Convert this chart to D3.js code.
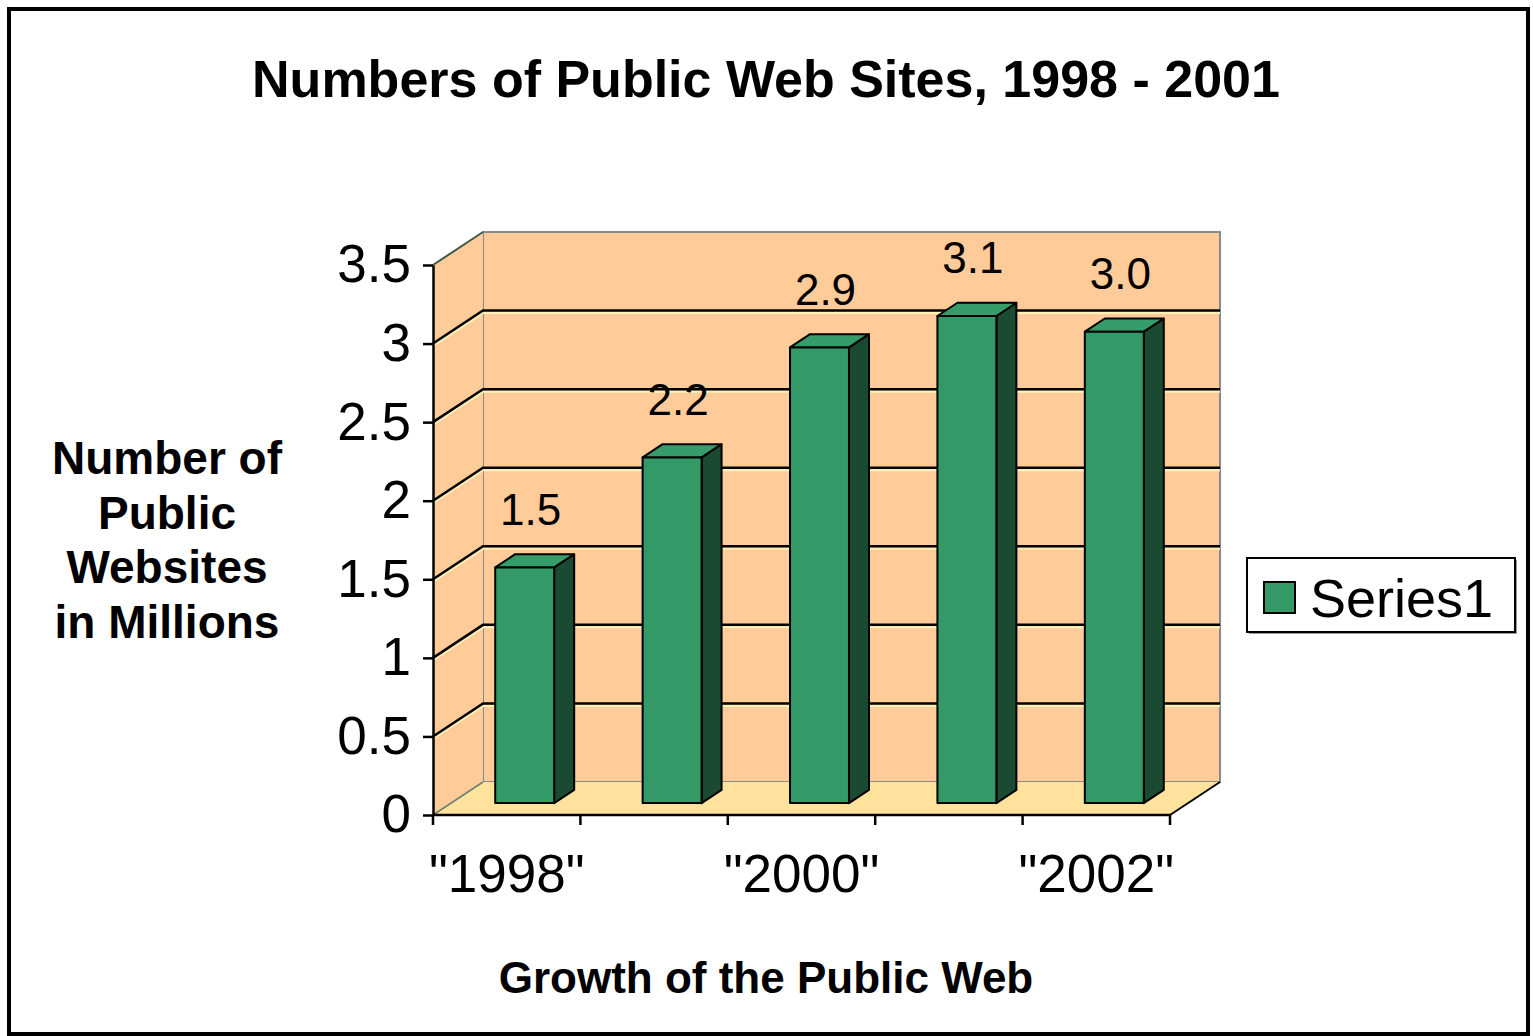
<!DOCTYPE html>
<html>
<head>
<meta charset="utf-8">
<script src="https://cdn.jsdelivr.net/npm/d3@7"></script>
<style>
  html, body { margin: 0; padding: 0; background: #fff; }
  svg { display: block; font-family: "Liberation Sans", Arial, Helvetica, sans-serif; }
</style>
</head>
<body>
<svg id="chart" width="1533" height="1036"></svg>
<script>
// Chart data
const categories = ["1998", "1999", "2000", "2001", "2002"];
const values = [1.5, 2.2, 2.9, 3.1, 3.0];
const valueLabels = ["1.5", "2.2", "2.9", "3.1", "3.0"];
const yTicks = [0, 0.5, 1, 1.5, 2, 2.5, 3, 3.5];
const yTickLabels = ["0", "0.5", "1", "1.5", "2", "2.5", "3", "3.5"];
const xTickLabels = ["\"1998\"", "", "\"2000\"", "", "\"2002\""];
const seriesName = "Series1";
const titleText = "Numbers of Public Web Sites, 1998 - 2001";
const yTitleLines = ["Number of", "Public", "Websites", "in Millions"];
const xTitleText = "Growth of the Public Web";

// Colours
const wallColor = "#FFCC99";
const floorColor = "#FFE29C";
const barFront = "#339966";
const barTop = "#369C69";
const barSide = "#1B4A32";

const svg = d3.select("#chart");

// Front plane of the 3D plot box plus depth offset to the back wall
const plotLeft = 433, plotRight = 1170, plotBottom = 815, plotTop = 265;
const DX = 50, DY = -33;

const x = d3.scaleBand().domain(categories).range([plotLeft, plotRight]).paddingInner(0).paddingOuter(0);
const y = d3.scaleLinear().domain([0, 3.5]).range([plotBottom, plotTop]);
const bw = x.bandwidth();
const pts = arr => arr.map(p => p.join(",")).join(" ");

// Outer frame
svg.append("rect")
  .attr("x", 9).attr("y", 9).attr("width", 1519).attr("height", 1025)
  .attr("fill", "#fff").attr("stroke", "#000").attr("stroke-width", 4);

// Back wall
svg.append("rect")
  .attr("x", plotLeft + DX).attr("y", y(3.5) + DY)
  .attr("width", plotRight - plotLeft).attr("height", y(0) - y(3.5))
  .attr("fill", wallColor).attr("stroke", "#8a8a8a").attr("stroke-width", 2);

// Side wall
svg.append("polygon")
  .attr("points", pts([[plotLeft, y(3.5)], [plotLeft + DX, y(3.5) + DY], [plotLeft + DX, y(0) + DY], [plotLeft, y(0)]]))
  .attr("fill", wallColor).attr("stroke", "none");
svg.append("line")
  .attr("x1", plotLeft).attr("y1", y(3.5)).attr("x2", plotLeft + DX).attr("y2", y(3.5) + DY)
  .attr("stroke", "#3d5a48").attr("stroke-width", 2);

// Gridlines on both walls
const gridVals = yTicks.filter(v => v > 0 && v < 3.5);
const grid = svg.append("g");
gridVals.forEach(v => {
  grid.append("polyline")
    .attr("points", pts([[plotLeft, y(v) + 2.5], [plotLeft + DX, y(v) + DY + 2.5], [plotRight + DX, y(v) + DY + 2.5]]))
    .attr("fill", "none").attr("stroke", "#FFF2B8").attr("stroke-width", 2);
  grid.append("polyline")
    .attr("points", pts([[plotLeft, y(v)], [plotLeft + DX, y(v) + DY], [plotRight + DX, y(v) + DY]]))
    .attr("fill", "none").attr("stroke", "#000").attr("stroke-width", 2.5);
});

// Floor
svg.append("polygon")
  .attr("points", pts([[plotLeft, y(0)], [plotRight, y(0)], [plotRight + DX, y(0) + DY], [plotLeft + DX, y(0) + DY]]))
  .attr("fill", floorColor).attr("stroke", "none");
svg.append("line")
  .attr("x1", plotLeft).attr("y1", y(0)).attr("x2", plotLeft + DX).attr("y2", y(0) + DY)
  .attr("stroke", "#6d7f70").attr("stroke-width", 1.5);
svg.append("line")
  .attr("x1", plotRight).attr("y1", y(0)).attr("x2", plotRight + DX).attr("y2", y(0) + DY)
  .attr("stroke", "#000").attr("stroke-width", 2);

// 3D bars
const fFront = 0.36, fDepth = 0.4, widthFrac = 0.4;
const bars = svg.append("g");
categories.forEach((c, i) => {
  const v = values[i];
  const cx = x(c) + bw / 2 + fFront * DX;
  const w = bw * widthFrac;
  const xl = cx - w / 2, xr = cx + w / 2;
  const yTopFace = y(v) + fFront * DY, yBase = y(0) + fFront * DY;
  const ddx = fDepth * DX, ddy = fDepth * DY;
  const g = bars.append("g").attr("stroke", "#000").attr("stroke-width", 2).attr("stroke-linejoin", "round");
  g.append("polygon")
    .attr("points", pts([[xr, yTopFace], [xr + ddx, yTopFace + ddy], [xr + ddx, yBase + ddy], [xr, yBase]]))
    .attr("fill", barSide);
  g.append("polygon")
    .attr("points", pts([[xl, yTopFace], [xr, yTopFace], [xr + ddx, yTopFace + ddy], [xl + ddx, yTopFace + ddy]]))
    .attr("fill", barTop);
  g.append("rect")
    .attr("x", xl).attr("y", yTopFace).attr("width", w).attr("height", yBase - yTopFace)
    .attr("fill", barFront);
  // value label
  svg.append("text")
    .attr("x", cx + 6).attr("y", yTopFace - 58)
    .attr("text-anchor", "middle").attr("dominant-baseline", "central")
    .attr("font-size", 44).attr("fill", "#000")
    .text(valueLabels[i]);
});

// Y axis
const yAxis = d3.axisLeft(y)
  .tickValues(yTicks)
  .tickFormat((d, i) => yTickLabels[i])
  .tickSize(10).tickSizeOuter(0).tickPadding(12);
const ya = svg.append("g").attr("transform", `translate(${plotLeft},0)`).call(yAxis);
ya.select(".domain").attr("stroke", "#000").attr("stroke-width", 2.5);
ya.selectAll(".tick line").attr("stroke", "#000").attr("stroke-width", 2.5);
ya.selectAll(".tick text").attr("font-size", 53).attr("fill", "#000")
  .attr("font-family", "'Liberation Sans', Arial, sans-serif");

// X axis: baseline, ticks at category boundaries, labels at band centres
const xa = svg.append("g");
xa.append("line").attr("x1", plotLeft).attr("x2", plotRight).attr("y1", plotBottom).attr("y2", plotBottom)
  .attr("stroke", "#000").attr("stroke-width", 2.5);
const boundaries = categories.map(c => x(c)).concat([plotRight]);
xa.selectAll("line.tick").data(boundaries).join("line")
  .attr("class", "tick")
  .attr("x1", d => d).attr("x2", d => d).attr("y1", plotBottom).attr("y2", plotBottom + 10)
  .attr("stroke", "#000").attr("stroke-width", 2.5);
xa.selectAll("text").data(categories).join("text")
  .attr("x", c => x(c) + bw / 2).attr("y", plotBottom + 58)
  .attr("text-anchor", "middle").attr("dominant-baseline", "central")
  .attr("font-size", 53).attr("fill", "#000")
  .text((c, i) => xTickLabels[i]);

// Title
svg.append("text")
  .attr("x", 766).attr("y", 97)
  .attr("text-anchor", "middle").attr("font-size", 52).attr("font-weight", "bold")
  .text(titleText);

// Y axis title
const yTitle = svg.append("text")
  .attr("text-anchor", "middle").attr("font-size", 46).attr("font-weight", "bold");
yTitleLines.forEach((line, i) => {
  yTitle.append("tspan").attr("x", 167).attr("y", 474 + i * 54.5).text(line);
});

// X axis title
svg.append("text")
  .attr("x", 766).attr("y", 993)
  .attr("text-anchor", "middle").attr("font-size", 44).attr("font-weight", "bold")
  .text(xTitleText);

// Legend
const lg = svg.append("g");
lg.append("rect").attr("x", 1249).attr("y", 560).attr("width", 268).attr("height", 74)
  .attr("fill", "#9a9a9a");
lg.append("rect").attr("x", 1247).attr("y", 558).attr("width", 268).attr("height", 74)
  .attr("fill", "#fff").attr("stroke", "#000").attr("stroke-width", 2);
lg.append("rect").attr("x", 1264).attr("y", 582).attr("width", 31).attr("height", 31)
  .attr("fill", barFront).attr("stroke", "#000").attr("stroke-width", 2);
lg.append("text").attr("x", 1310).attr("y", 598)
  .attr("dominant-baseline", "central").attr("font-size", 54).attr("fill", "#000")
  .text(seriesName);
</script>
</body>
</html>
